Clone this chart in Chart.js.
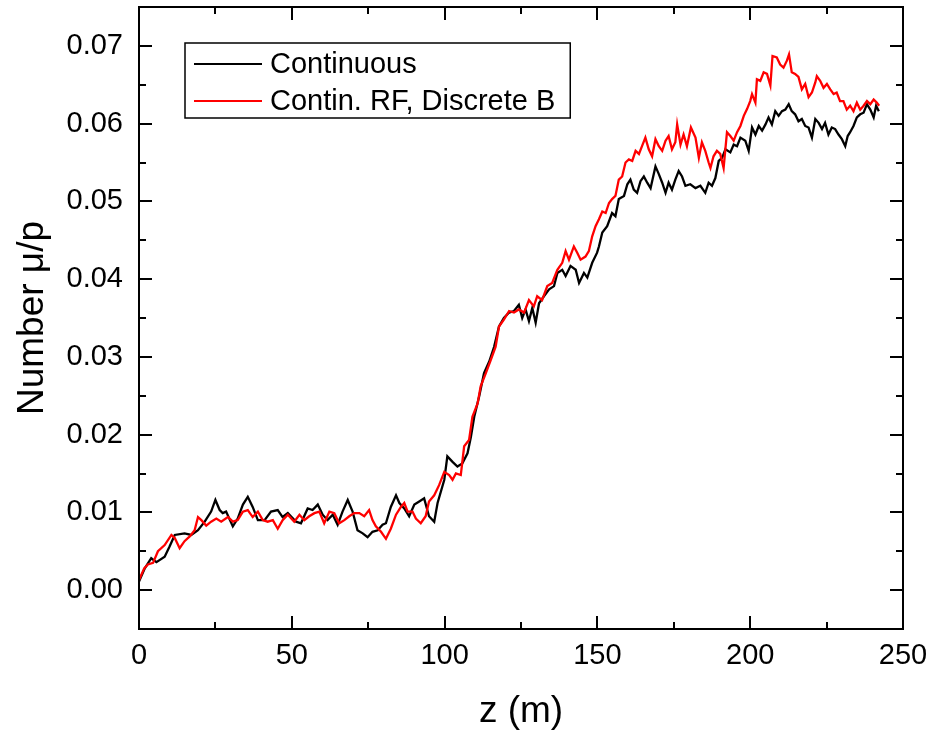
<!DOCTYPE html>
<html>
<head>
<meta charset="utf-8">
<script src="https://cdn.jsdelivr.net/npm/chart.js@4.4.1/dist/chart.umd.min.js"></script>
<style>
  body { margin: 0; background: #fff; }
  #wrap { width: 932px; height: 732px; }
</style>
</head>
<body>
<div id="wrap"><canvas id="muChart" width="932" height="732"></canvas></div>
<script>
// z positions (m) and muon yield
const contZ = [0, 1.9, 4.0, 5.7, 8.4, 10.0, 11.7, 14.9, 17.1, 19.3, 21.5, 23.6, 25.0, 26.4, 27.4, 28.5, 30.7, 32.3, 34.0, 35.6,
  37.2, 38.9, 41.1, 43.2, 45.4, 47.0, 48.7, 51.4, 53.0, 55.2, 56.8, 58.5, 60.1, 61.7, 63.4, 65.0, 66.6, 68.3, 69.9, 71.5,
  73.2, 74.8, 76.4, 78.1, 79.7, 80.8, 82.4, 84.1, 85.2, 86.8, 88.4, 90.1, 91.7, 93.3, 94.9, 96.6, 97.7, 99.9, 100.9, 102.6,
  104.2, 105.8, 107.5, 108.6, 109.7, 111.3, 112.9, 114.6, 116.2, 117.8, 119.4, 121.1, 122.7, 124.3, 125.4, 126.5, 127.6, 128.7, 129.8, 130.9,
  132.5, 134.2, 135.8, 136.9, 138.5, 139.6, 141.2, 142.9, 144.0, 145.6, 146.7, 148.3, 149.9, 150.5, 151.6, 153.2, 154.8, 155.9, 157.0, 158.7,
  159.8, 160.8, 161.9, 163.0, 164.1, 165.2, 166.3, 167.4, 169.0, 170.1, 171.2, 172.3, 173.3, 174.4, 175.5, 176.6, 177.7, 178.8, 180.4, 182.1,
  183.7, 185.3, 186.4, 187.5, 188.6, 189.7, 190.8, 191.9, 193.5, 194.6, 195.7, 196.8, 198.4, 199.5, 200.6, 201.7, 202.8, 203.9, 205.0, 206.0,
  207.1, 208.2, 209.3, 210.4, 211.5, 212.6, 213.6, 214.7, 215.8, 216.9, 218.0, 219.1, 220.2, 221.3, 222.4, 223.5, 224.5, 225.6, 226.7, 227.8,
  228.9, 230.0, 231.1, 231.9, 232.7, 233.8, 234.9, 236.0, 237.1, 238.2, 239.3, 240.4, 241.2, 242.1];
const contMu = [0.0011, 0.0028, 0.0041, 0.0036, 0.0043, 0.0056, 0.0071, 0.0073, 0.0071, 0.0077, 0.0088, 0.0101, 0.0116, 0.0103, 0.0099, 0.0101, 0.0082, 0.0092, 0.0110, 0.0120,
  0.0107, 0.0090, 0.0090, 0.0101, 0.0103, 0.0094, 0.0099, 0.0088, 0.0086, 0.0105, 0.0103, 0.0110, 0.0097, 0.0090, 0.0097, 0.0084, 0.0101, 0.0116, 0.0101, 0.0077,
  0.0073, 0.0068, 0.0075, 0.0077, 0.0084, 0.0086, 0.0107, 0.0122, 0.0112, 0.0105, 0.0095, 0.0110, 0.0114, 0.0118, 0.0095, 0.0088, 0.0112, 0.0142, 0.0172, 0.0165,
  0.0159, 0.0163, 0.0176, 0.0197, 0.0223, 0.0249, 0.0279, 0.0294, 0.0313, 0.0339, 0.0350, 0.0357, 0.0359, 0.0367, 0.0350, 0.0361, 0.0346, 0.0363, 0.0344, 0.0369,
  0.0378, 0.0387, 0.0391, 0.0408, 0.0412, 0.0404, 0.0417, 0.0412, 0.0395, 0.0408, 0.0402, 0.0421, 0.0434, 0.0442, 0.0460, 0.0468, 0.0485, 0.0481, 0.0503, 0.0507,
  0.0522, 0.0528, 0.0515, 0.0511, 0.0526, 0.0532, 0.0524, 0.0517, 0.0545, 0.0535, 0.0524, 0.0511, 0.0524, 0.0515, 0.0528, 0.0539, 0.0532, 0.0520, 0.0522, 0.0517,
  0.0520, 0.0511, 0.0524, 0.0520, 0.0530, 0.0552, 0.0556, 0.0567, 0.0563, 0.0573, 0.0571, 0.0582, 0.0578, 0.0565, 0.0595, 0.0586, 0.0597, 0.0591, 0.0599, 0.0608,
  0.0599, 0.0616, 0.0610, 0.0616, 0.0618, 0.0625, 0.0616, 0.0612, 0.0603, 0.0606, 0.0597, 0.0595, 0.0582, 0.0606, 0.0601, 0.0593, 0.0601, 0.0586, 0.0595, 0.0593,
  0.0586, 0.0580, 0.0571, 0.0584, 0.0589, 0.0597, 0.0608, 0.0612, 0.0614, 0.0625, 0.0618, 0.0608, 0.0623, 0.0616];

const rfZ = [0, 1.7, 2.9, 4.6, 6.2, 8.4, 10.6, 11.7, 13.3, 14.9, 16.6, 18.2, 19.3, 20.4, 22.0, 23.6, 25.3, 26.9, 29.1, 30.7,
  32.3, 34.0, 35.6, 37.2, 38.9, 40.5, 42.1, 43.8, 45.4, 47.0, 48.7, 50.8, 52.5, 54.1, 55.7, 57.4, 59.0, 60.6, 62.3, 63.9,
  65.5, 67.2, 68.8, 70.4, 72.1, 73.7, 75.3, 76.4, 77.5, 79.2, 80.8, 82.4, 84.1, 85.7, 86.8, 87.9, 89.5, 90.6, 92.2, 93.8,
  94.9, 96.6, 98.2, 99.9, 101.5, 102.6, 103.7, 105.3, 106.4, 108.0, 109.1, 110.8, 111.8, 113.5, 115.1, 116.7, 117.8, 119.4, 121.1, 122.7,
  124.3, 126.0, 127.6, 129.2, 130.3, 131.9, 133.6, 135.2, 136.9, 138.5, 139.6, 140.7, 142.3, 143.4, 144.5, 146.1, 147.2, 148.3, 149.4, 150.5,
  151.6, 152.7, 153.8, 154.8, 155.9, 157.0, 158.1, 159.2, 160.3, 161.4, 162.5, 163.6, 164.6, 165.7, 166.8, 167.9, 169.0, 170.1, 171.2, 172.3,
  173.3, 174.4, 175.5, 176.1, 177.2, 178.2, 179.3, 180.6, 182.1, 183.2, 184.2, 185.3, 186.4, 187.0, 188.0, 189.1, 190.2, 191.3, 192.4, 193.5,
  194.6, 195.7, 196.8, 197.9, 199.0, 200.0, 200.6, 201.7, 202.2, 203.3, 204.4, 205.5, 206.6, 207.3, 208.7, 209.8, 210.9, 212.0, 212.7, 213.6,
  214.7, 215.8, 216.9, 218.0, 219.1, 220.2, 221.3, 221.8, 222.9, 224.0, 225.1, 226.2, 227.3, 228.3, 229.4, 230.5, 231.6, 232.7, 233.8, 234.9,
  236.0, 237.1, 238.2, 239.3, 240.4, 241.4, 242.2];
const rfMu = [0.0013, 0.0028, 0.0033, 0.0035, 0.0050, 0.0058, 0.0071, 0.0067, 0.0054, 0.0063, 0.0069, 0.0077, 0.0094, 0.0090, 0.0083, 0.0088, 0.0092, 0.0088, 0.0094, 0.0088,
  0.0090, 0.0101, 0.0103, 0.0094, 0.0101, 0.0090, 0.0088, 0.0090, 0.0079, 0.0090, 0.0097, 0.0088, 0.0097, 0.0090, 0.0095, 0.0099, 0.0101, 0.0086, 0.0101, 0.0099,
  0.0086, 0.0090, 0.0095, 0.0099, 0.0099, 0.0095, 0.0103, 0.0090, 0.0082, 0.0075, 0.0066, 0.0079, 0.0097, 0.0107, 0.0112, 0.0101, 0.0101, 0.0092, 0.0086, 0.0095,
  0.0114, 0.0122, 0.0135, 0.0152, 0.0148, 0.0142, 0.0150, 0.0148, 0.0185, 0.0193, 0.0223, 0.0240, 0.0262, 0.0279, 0.0296, 0.0313, 0.0339, 0.0348, 0.0359, 0.0357,
  0.0361, 0.0357, 0.0373, 0.0365, 0.0378, 0.0373, 0.0391, 0.0395, 0.0412, 0.0421, 0.0436, 0.0425, 0.0442, 0.0434, 0.0425, 0.0429, 0.0436, 0.0455, 0.0468, 0.0477,
  0.0487, 0.0485, 0.0498, 0.0503, 0.0507, 0.0528, 0.0532, 0.0550, 0.0554, 0.0552, 0.0565, 0.0561, 0.0571, 0.0582, 0.0567, 0.0558, 0.0580, 0.0571, 0.0565, 0.0578,
  0.0584, 0.0567, 0.0576, 0.0599, 0.0573, 0.0586, 0.0571, 0.0595, 0.0582, 0.0556, 0.0576, 0.0565, 0.0550, 0.0543, 0.0558, 0.0565, 0.0561, 0.0543, 0.0589, 0.0584,
  0.0578, 0.0589, 0.0597, 0.0610, 0.0619, 0.0629, 0.0638, 0.0627, 0.0657, 0.0655, 0.0666, 0.0664, 0.0649, 0.0687, 0.0685, 0.0676, 0.0672, 0.0681, 0.0689, 0.0666,
  0.0664, 0.0660, 0.0644, 0.0651, 0.0634, 0.0640, 0.0653, 0.0661, 0.0655, 0.0646, 0.0651, 0.0644, 0.0638, 0.0640, 0.0629, 0.0629, 0.0618, 0.0623, 0.0616, 0.0627,
  0.0618, 0.0623, 0.0629, 0.0625, 0.0631, 0.0627, 0.0623];

const seriesNames = ['Continuous', 'Contin. RF, Discrete B'];
const xTicks = [0, 50, 100, 150, 200, 250];
const xMinor = [25, 75, 125, 175, 225];
const yTicks = [0, 0.01, 0.02, 0.03, 0.04, 0.05, 0.06, 0.07];
const yMinor = [0.005, 0.015, 0.025, 0.035, 0.045, 0.055, 0.065];

const FONT = "'Liberation Sans', Arial, sans-serif";

function toPoints(zs, vs) {
    return zs.map((z, i) => ({x: z, y: vs[i]}));
}

// box round the plot, with inward ticks on all four sides
const frameTicks = {
    id: 'frameTicks',
    afterDatasetsDraw(chart) {
        const {ctx, chartArea: a, scales: {x, y}} = chart;
        ctx.save();
        ctx.strokeStyle = '#000';
        ctx.lineWidth = 2;
        ctx.beginPath();
        const xTick = (vals, len) => vals.forEach(v => {
            const px = Math.round(x.getPixelForValue(v));
            ctx.moveTo(px, a.bottom); ctx.lineTo(px, a.bottom - len);
            ctx.moveTo(px, a.top); ctx.lineTo(px, a.top + len);
        });
        const yTick = (vals, len) => vals.forEach(v => {
            const py = Math.round(y.getPixelForValue(v));
            ctx.moveTo(a.left, py); ctx.lineTo(a.left + len, py);
            ctx.moveTo(a.right, py); ctx.lineTo(a.right - len, py);
        });
        xTick(xTicks.slice(1, -1), 13);
        xTick(xMinor, 7);
        yTick(yTicks, 13);
        yTick(yMinor, 7);
        ctx.stroke();
        ctx.strokeRect(a.left, a.top, a.right - a.left, a.bottom - a.top);
        ctx.restore();
    }
};

// legend box in the upper left of the plot
const boxLegend = {
    id: 'boxLegend',
    afterDraw(chart) {
        const ctx = chart.ctx;
        const left = 185, top = 43, rowH = 37;
        ctx.save();
        ctx.font = '29px ' + FONT;
        let maxW = 0;
        chart.data.datasets.forEach(ds => { maxW = Math.max(maxW, ctx.measureText(ds.label).width); });
        const width = 85 + maxW + 15;
        ctx.fillStyle = '#fff';
        ctx.fillRect(left, top, width, 75);
        ctx.strokeStyle = '#000';
        ctx.lineWidth = 1.5;
        ctx.strokeRect(left, top, width, 75);
        ctx.textBaseline = 'middle';
        chart.data.datasets.forEach((ds, i) => {
            const cy = top + 21 + i * rowH;
            ctx.strokeStyle = ds.borderColor;
            ctx.lineWidth = 2;
            ctx.beginPath();
            ctx.moveTo(left + 9, cy);
            ctx.lineTo(left + 77, cy);
            ctx.stroke();
            ctx.fillStyle = '#000';
            ctx.fillText(ds.label, left + 85, cy + 1);
        });
        ctx.restore();
    }
};

const muCanvas = document.getElementById('muChart').getContext('2d');
const muChart = new Chart(muCanvas, {
    type: 'line',
    data: {
        datasets: [
            {
                label: seriesNames[0],
                data: toPoints(contZ, contMu),
                borderColor: '#000000',
                borderWidth: 2.3,
                pointRadius: 0,
                tension: 0,
                order: 2
            },
            {
                label: seriesNames[1],
                data: toPoints(rfZ, rfMu),
                borderColor: '#ff0000',
                borderWidth: 2.3,
                pointRadius: 0,
                tension: 0,
                order: 1
            }
        ]
    },
    options: {
        responsive: false,
        animation: false,
        layout: { padding: { top: 7, right: 29, left: 0, bottom: 0 } },
        plugins: { legend: { display: false }, tooltip: { enabled: false } },
        scales: {
            x: {
                type: 'linear',
                min: 0,
                max: 250,
                grid: { display: false, drawTicks: false },
                border: { display: false },
                afterBuildTicks: s => { s.ticks = xTicks.map(v => ({value: v})); },
                afterFit: s => { s.height = 103; s.paddingLeft = 0; s.paddingRight = 0; },
                ticks: {
                    color: '#000',
                    padding: 10,
                    maxRotation: 0,
                    font: { family: FONT, size: 29 }
                },
                title: {
                    display: true,
                    text: 'z (m)',
                    color: '#000',
                    padding: { top: 0, bottom: -2 },
                    font: { family: FONT, size: 37 }
                }
            },
            y: {
                min: -0.005,
                max: 0.075,
                grid: { display: false, drawTicks: false },
                border: { display: false },
                afterBuildTicks: s => { s.ticks = yTicks.map(v => ({value: v})); },
                afterFit: s => { s.width = 139; s.paddingTop = 0; s.paddingBottom = 0; },
                ticks: {
                    color: '#000',
                    padding: 16,
                    font: { family: FONT, size: 29 },
                    callback: v => v.toFixed(2)
                },
                title: {
                    display: true,
                    text: 'Number \u03bc/p',
                    color: '#000',
                    padding: { top: 11, bottom: 0 },
                    font: { family: FONT, size: 37 }
                }
            }
        }
    },
    plugins: [frameTicks, boxLegend]
});
</script>
</body>
</html>
